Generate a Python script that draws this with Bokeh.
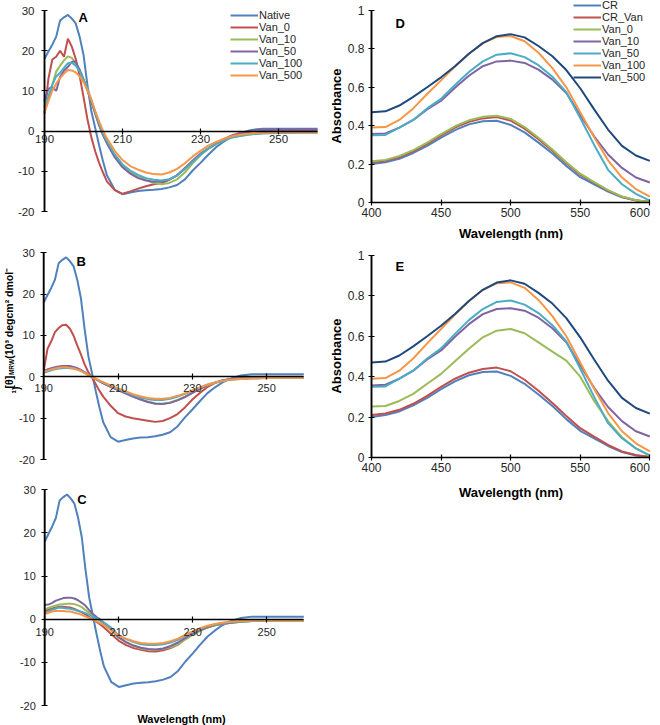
import math
from bokeh.plotting import figure
from bokeh.models import Legend, LegendItem, Label, FixedTicker
from bokeh.layouts import row, column
from bokeh.embed import file_html
from bokeh.resources import INLINE

FONT = "Liberation Sans"
TXT = "#262626"

# ---------------- CD spectra (panels A, B, C) ----------------
cd_wl = [190, 191, 192, 193, 194, 195, 196, 197, 198, 199, 200, 201, 202, 203, 204, 205, 206,
         208, 210, 212, 214, 216, 218, 220, 222, 224, 226, 228, 230, 232, 234, 236, 238, 240,
         243, 246, 250, 255, 260]
cd_xticks = [190, 210, 230, 250]
cd_xtick_labels = ["190", "210", "230", "250"]
cd_yticks = [-20, -10, 0, 10, 20, 30]
cd_ytick_labels = ["-20", "-10", "0", "10", "20", "30"]
cd_names = ["Native", "Van_0", "Van_10", "Van_50", "Van_100", "Van_500"]

native = [18.0, 19.8, 21.5, 23.5, 27.5, 28.3, 28.9, 28.0, 26.8, 23.5, 19.0, 11.5, 5.0, 0.8, -3.5, -7.5, -11.0,
          -14.6, -15.7, -15.3, -14.9, -14.7, -14.6, -14.4, -14.0, -13.4, -12.0, -9.8, -7.9, -5.9, -4.0, -2.6, -1.4, -0.5,
          0.3, 0.6, 0.6, 0.6, 0.6]

a_van0 = [4.3, 13.0, 17.8, 18.5, 20.0, 18.5, 23.0, 21.0, 18.0, 13.8, 8.5, 3.0, -1.5, -5.0, -7.9, -10.3, -12.5,
          -14.7, -15.6, -15.0, -14.3, -13.7, -13.2, -12.9, -12.1, -11.0, -9.2, -7.5, -5.8, -4.4, -3.1, -2.0, -1.1, -0.5,
          0.0, 0.2, 0.3, 0.3, 0.3]
a_van10 = [6.0, 8.5, 11.5, 14.8, 16.3, 17.6, 18.6, 18.2, 16.8, 15.3, 13.0, 10.3, 7.3, 4.4, 1.5, -1.0, -3.0,
           -6.3, -8.6, -10.2, -11.3, -12.2, -12.9, -13.2, -12.9, -12.0, -10.3, -8.0, -6.0, -4.4, -3.2, -2.3, -1.6, -1.2,
           -0.8, -0.5, -0.4, -0.3, -0.3]
a_van50 = [7.5, 10.5, 11.0, 10.0, 13.5, 15.0, 16.0, 17.2, 17.3, 15.2, 12.8, 10.2, 7.3, 4.4, 1.5, -1.0, -3.0,
           -6.5, -9.0, -10.6, -11.7, -12.3, -12.6, -12.5, -12.1, -11.0, -9.3, -7.3, -5.6, -4.3, -3.1, -2.1, -1.2, -0.7,
           -0.1, 0.3, 0.4, 0.4, 0.4]
a_van100 = [5.8, 8.5, 11.5, 13.6, 14.5, 15.7, 16.9, 17.0, 16.3, 14.9, 12.8, 10.6, 7.8, 4.8, 1.9, -0.6, -2.5,
            -5.8, -8.3, -9.8, -10.9, -11.7, -12.1, -12.3, -12.0, -11.0, -9.4, -7.6, -5.9, -4.3, -3.1, -2.2, -1.6, -1.2,
            -0.8, -0.6, -0.5, -0.4, -0.4]
a_van500 = [4.5, 7.5, 10.0, 11.8, 13.2, 14.3, 15.2, 15.1, 14.6, 13.6, 12.2, 10.2, 7.9, 5.0, 2.4, 0.1, -1.8,
            -4.9, -7.2, -8.7, -9.6, -10.3, -10.7, -10.8, -10.3, -9.4, -8.0, -6.3, -4.9, -3.6, -2.7, -1.9, -1.3, -0.9,
            -0.6, -0.4, -0.3, -0.3, -0.3]

b_van0 = [1.6, 6.8, 8.6, 10.8, 11.8, 12.5, 12.6, 11.7, 10.0, 7.6, 5.4, 3.0, 1.1, -0.2, -1.8, -3.4, -4.8,
          -7.0, -8.8, -9.6, -10.0, -10.3, -10.6, -10.9, -10.7, -10.0, -9.0, -7.4, -5.5, -3.9, -2.5, -1.5, -0.9, -0.6,
          -0.4, -0.2, -0.1, -0.1, -0.1]
b_van10 = [1.4, 1.7, 1.9, 2.1, 2.2, 2.3, 2.3, 2.3, 2.1, 1.9, 1.5, 1.0, 0.5, 0.0, -0.5, -1.0, -1.5,
           -2.4, -3.2, -4.0, -4.8, -5.4, -6.0, -6.4, -6.5, -6.2, -5.6, -4.8, -3.9, -3.0, -2.1, -1.5, -1.0, -0.7,
           -0.4, -0.3, -0.2, -0.2, -0.2]
b_van50 = [1.5, 1.8, 2.1, 2.3, 2.5, 2.6, 2.6, 2.6, 2.4, 2.1, 1.7, 1.1, 0.5, -0.1, -0.6, -1.1, -1.6,
           -2.4, -3.2, -4.0, -4.8, -5.5, -6.1, -6.5, -6.6, -6.3, -5.7, -4.9, -3.9, -2.9, -2.0, -1.4, -0.9, -0.6,
           -0.3, -0.2, -0.1, -0.1, -0.1]
b_van100 = [1.0, 1.3, 1.6, 1.8, 2.0, 2.1, 2.2, 2.1, 2.0, 1.8, 1.5, 1.0, 0.5, 0.0, -0.5, -1.0, -1.4,
            -2.2, -3.0, -3.7, -4.4, -5.0, -5.4, -5.6, -5.6, -5.3, -4.8, -4.1, -3.4, -2.6, -1.9, -1.4, -1.0, -0.7,
            -0.5, -0.4, -0.3, -0.3, -0.3]
b_van500 = [1.2, 1.5, 1.8, 2.0, 2.2, 2.3, 2.3, 2.2, 2.0, 1.7, 1.4, 0.9, 0.4, -0.1, -0.5, -0.9, -1.3,
            -2.1, -2.8, -3.5, -4.2, -4.7, -5.1, -5.3, -5.3, -5.1, -4.6, -4.0, -3.3, -2.6, -1.9, -1.4, -1.0, -0.7,
            -0.5, -0.4, -0.3, -0.2, -0.2]

c_van0 = [2.0, 2.2, 2.5, 2.7, 2.9, 2.9, 2.8, 2.7, 2.4, 2.0, 1.6, 1.1, 0.5, -0.1, -0.6, -1.2, -1.9,
          -3.5, -5.0, -6.0, -6.7, -7.1, -7.4, -7.5, -7.2, -6.7, -5.9, -4.6, -3.4, -2.6, -1.9, -1.4, -1.1, -0.9,
          -0.6, -0.4, -0.3, -0.3, -0.3]
c_van10 = [2.3, 2.6, 2.9, 3.2, 3.4, 3.5, 3.6, 3.6, 3.5, 3.2, 2.8, 2.1, 1.5, 0.9, 0.3, -0.3, -1.0,
           -2.6, -4.3, -5.4, -6.2, -6.8, -7.1, -7.1, -6.9, -6.5, -5.8, -4.7, -3.6, -2.7, -1.9, -1.4, -1.1, -0.9,
           -0.6, -0.4, -0.3, -0.3, -0.3]
c_van50 = [3.3, 3.4, 3.8, 4.3, 4.6, 4.9, 5.0, 5.0, 4.8, 4.4, 3.8, 3.1, 2.1, 1.2, 0.5, -0.1, -0.9,
           -2.4, -4.2, -5.3, -6.1, -6.6, -6.9, -7.0, -6.8, -6.2, -5.4, -4.3, -3.3, -2.5, -1.8, -1.3, -1.0, -0.8,
           -0.5, -0.3, -0.2, -0.2, -0.2]
c_van100 = [1.5, 1.8, 2.2, 2.5, 2.7, 2.6, 2.5, 2.4, 2.2, 1.9, 1.7, 1.4, 1.0, 0.6, 0.2, -0.3, -0.8,
            -2.0, -3.8, -4.6, -5.3, -5.8, -6.0, -6.0, -5.8, -5.4, -4.8, -3.8, -2.9, -2.2, -1.6, -1.2, -0.9, -0.7,
            -0.5, -0.4, -0.3, -0.3, -0.3]
c_van500 = [1.2, 1.5, 1.8, 1.9, 1.9, 1.9, 1.8, 1.8, 1.5, 1.3, 1.0, 0.6, 0.3, -0.1, -0.5, -0.9, -1.4,
            -2.6, -3.8, -4.5, -5.1, -5.5, -5.7, -5.7, -5.5, -5.1, -4.5, -3.6, -2.8, -2.1, -1.5, -1.1, -0.8, -0.6,
            -0.4, -0.3, -0.3, -0.3, -0.3]

# ---------------- Absorbance spectra (panels D, E) ----------------
abs_wl = [400, 410, 420, 430, 440, 450, 460, 470, 480, 490, 500, 510, 520, 530, 540, 550, 560, 570, 580, 590, 600]
abs_xticks = [400, 450, 500, 550, 600]
abs_xtick_labels = ["400", "450", "500", "550", "600"]
abs_yticks = [0, 0.2, 0.4, 0.6, 0.8, 1]
abs_ytick_labels = ["0", "0.2", "0.4", "0.6", "0.8", "1"]
abs_names = ["CR", "CR_Van", "Van_0", "Van_10", "Van_50", "Van_100", "Van_500"]

cr = [0.20, 0.21, 0.228, 0.258, 0.295, 0.338, 0.377, 0.407, 0.423, 0.426, 0.404, 0.365, 0.312, 0.255, 0.19,
      0.132, 0.095, 0.057, 0.027, 0.01, 0.003]
cr_van = [0.21, 0.218, 0.236, 0.266, 0.305, 0.35, 0.39, 0.42, 0.438, 0.445, 0.427, 0.385, 0.33, 0.27, 0.205,
          0.145, 0.103, 0.062, 0.03, 0.012, 0.003]
d_van0 = [0.215, 0.222, 0.242, 0.273, 0.312, 0.356, 0.397, 0.428, 0.446, 0.452, 0.435, 0.393, 0.337, 0.276, 0.21,
          0.15, 0.106, 0.064, 0.031, 0.012, 0.003]
e_van0 = [0.253, 0.255, 0.28, 0.315, 0.365, 0.414, 0.477, 0.538, 0.595, 0.628, 0.636, 0.615, 0.57, 0.524, 0.48,
          0.40, 0.28, 0.18, 0.10, 0.045, 0.008]
van10 = [0.357, 0.36, 0.39, 0.43, 0.485, 0.53, 0.598, 0.66, 0.71, 0.735, 0.739, 0.727, 0.692, 0.64, 0.57,
         0.455, 0.345, 0.25, 0.18, 0.13, 0.104]
van50 = [0.35, 0.352, 0.39, 0.43, 0.49, 0.54, 0.612, 0.68, 0.735, 0.77, 0.777, 0.757, 0.715, 0.655, 0.575,
         0.44, 0.30, 0.17, 0.095, 0.045, 0.01]
van100 = [0.39, 0.393, 0.43, 0.49, 0.565, 0.636, 0.708, 0.775, 0.83, 0.862, 0.867, 0.84, 0.78, 0.70, 0.60,
          0.47, 0.34, 0.22, 0.13, 0.07, 0.03]
van500 = [0.47, 0.475, 0.505, 0.55, 0.60, 0.652, 0.71, 0.775, 0.83, 0.866, 0.877, 0.86, 0.815, 0.762, 0.69,
          0.595, 0.485, 0.38, 0.295, 0.245, 0.217]

CD_COLORS = ["#4F81BD", "#C0504D", "#9BBB59", "#8064A2", "#4BACC6", "#F79646"]
ABS_COLORS = ["#4F81BD", "#C0504D", "#9BBB59", "#8064A2", "#4BACC6", "#F79646", "#1F497D"]

W = 330  # width of each column


def rng(v0, p0, v1, p1, size):
    """visible range so that value v0 sits at pixel p0 and v1 at pixel p1 of a frame `size` px long"""
    k = (v1 - v0) / (p1 - p0)
    start = v0 - p0 * k
    return (start, start + size * k)


def base_fig(h, xr, yr):
    p = figure(width=W, height=h, x_range=xr, y_range=yr, output_backend="svg",
               toolbar_location=None, min_border=0)
    p.min_border_left = p.min_border_right = p.min_border_top = p.min_border_bottom = 0
    p.xgrid.visible = False
    p.ygrid.visible = False
    p.outline_line_color = None
    return p


def style_axes(p, fs, ystand, xstand):
    for ax in p.axis:
        ax.axis_line_color = "black"
        ax.axis_line_width = 1.5
        ax.major_tick_line_color = "black"
        ax.major_tick_line_width = 1.2
        ax.major_tick_in = 3
        ax.major_tick_out = 3
        ax.minor_tick_line_color = None
        ax.major_label_text_font = FONT
        ax.major_label_text_font_size = fs
        ax.major_label_text_color = TXT
    p.yaxis.major_label_standoff = ystand
    p.xaxis.major_label_standoff = xstand


def y_axis_line(p, xticks, yticks):
    # vertical axis rule along the first x tick, spanning the y tick range
    p.segment(x0=[xticks[0]], y0=[yticks[0]], x1=[xticks[0]], y1=[yticks[-1]],
              line_color="black", line_width=1.5)


def add_text(p, txt, x, y, size, bold=False, align="left", baseline="alphabetic", angle=0.0):
    p.add_layout(Label(x=x, y=y, x_units="screen", y_units="screen", text=txt, angle=angle,
                       text_font=FONT, text_font_size=size,
                       text_font_style="bold" if bold else "normal",
                       text_color="black", text_align=align, text_baseline=baseline))


def make_cd(h, xpix, ypix, fs, ystand, xstand, series):
    p = base_fig(h, rng(190, xpix[0], 260, xpix[1], W), rng(-20, ypix[0], 30, ypix[1], h))
    rs = [p.line(cd_wl, ys, line_color=c, line_width=2) for ys, c in zip(series, CD_COLORS)]
    y_axis_line(p, cd_xticks, cd_yticks)
    p.xaxis.fixed_location = 0
    p.xaxis.bounds = (190, 260)
    p.xaxis.ticker = FixedTicker(ticks=cd_xticks)
    p.xaxis.major_label_overrides = dict(zip(cd_xticks, cd_xtick_labels))
    p.yaxis.fixed_location = 190
    p.yaxis.bounds = (-20, 30)
    p.yaxis.ticker = FixedTicker(ticks=cd_yticks)
    p.yaxis.major_label_overrides = dict(zip(cd_yticks, cd_ytick_labels))
    style_axes(p, fs, ystand, xstand)
    return p, rs


def make_abs(h, ypix, series, xlab_y, ylab_y):
    p = base_fig(h, rng(400, 41, 600, 319.3, W), rng(0, ypix[0], 1, ypix[1], h))
    rs = [p.line(abs_wl, ys, line_color=c, line_width=2) for ys, c in zip(series, ABS_COLORS)]
    y_axis_line(p, abs_xticks, abs_yticks)
    p.xaxis.fixed_location = 0
    p.xaxis.bounds = (400, 600)
    p.xaxis.ticker = FixedTicker(ticks=abs_xticks)
    ov = dict(zip(abs_xticks, abs_xtick_labels))
    ov[abs_xticks[-1]] = ""
    p.xaxis.major_label_overrides = ov
    p.yaxis.fixed_location = 400
    p.yaxis.bounds = (0, 1)
    p.yaxis.ticker = FixedTicker(ticks=abs_yticks)
    p.yaxis.major_label_overrides = dict(zip(abs_yticks, abs_ytick_labels))
    style_axes(p, "12px", 4, 2)
    # last x tick label right-aligned at the axis end, as in the original
    p.add_layout(Label(x=abs_xticks[-1], y=ypix[0] - 5, x_units="data", y_units="screen",
                       text=abs_xtick_labels[-1], text_align="right", text_baseline="top",
                       text_font=FONT, text_font_size="12px", text_color=TXT))
    add_text(p, "Wavelength (nm)", 180.5, xlab_y, "13px", bold=True, align="center")
    add_text(p, "Absorbance", 6, ylab_y, "13px", bold=True, align="center",
             baseline="middle", angle=math.pi / 2)
    return p, rs


def make_legend(names, rs, x, y):
    return Legend(items=[LegendItem(label=n, renderers=[r]) for n, r in zip(names, rs)],
                  location=(x, y), orientation="vertical",
                  label_text_font=FONT, label_text_font_size="11px", label_text_color=TXT,
                  glyph_width=28, glyph_height=12, label_height=12, label_standoff=1,
                  spacing=0, padding=0, margin=0,
                  border_line_color=None, background_fill_alpha=0)


# Panel A  (page y 0..232)
HA = 232
pa, ra = make_cd(HA, (44, 317), (HA - 211, HA - 10), "11.5px", 7, 1,
                 [native, a_van0, a_van10, a_van50, a_van100, a_van500])
pa.add_layout(make_legend(cd_names, ra, 230, 151))
add_text(pa, "A", 78, HA - 17.3, "13px", bold=True)

# Panel B  (page y 232..470)
HB = 238
pb, rb = make_cd(HB, (43.3, 303.3), (HB - 227, HB - 20.3), "11px", 6, 4,
                 [native, b_van0, b_van10, b_van50, b_van100, b_van500])
add_text(pb, "B", 76, HB - 28.5, "13px", bold=True)
rot = math.pi / 2
add_text(pb, "[θ]", 8, 82, "10.5px", bold=True, baseline="middle", angle=rot)
add_text(pb, "MRW", 10.5, 95.4, "6.5px", bold=True, baseline="middle", angle=rot)
add_text(pb, " (10³ degcm² dmol⁻", 8, 111.7, "10.5px", bold=True, baseline="middle", angle=rot)
add_text(pb, "¹)", 15, 77, "10.5px", bold=True, baseline="middle", angle=rot)

# Panel C  (page y 470..725)
HC = 255
pc, rc = make_cd(HC, (44.3, 303.3), (HC - 235, HC - 19.3), "11px", 6, 6,
                 [native, c_van0, c_van10, c_van50, c_van100, c_van500])
add_text(pc, "C", 76.7, HC - 29.3, "13px", bold=True)
add_text(pc, "Wavelength (nm)", 181, 7, "11px", bold=True, align="center")

# Panel D  (page y 0..240, x 330..660)
HD = 240
pd_, rd = make_abs(HD, (HD - 202, HD - 10), [cr, cr_van, d_van0, van10, van50, van100, van500], 7, 134.5)
pd_.add_layout(make_legend(abs_names, rd, 243, 157))
add_text(pd_, "D", 65, HD - 22.7, "13px", bold=True)

# Panel E  (page y 240..500)
HE = 260
pe, re_ = make_abs(HE, (HE - 217, HE - 15), [cr, cr_van, e_van0, van10, van50, van100, van500], 8, 144.5)
add_text(pe, "E", 65, HE - 26, "13px", bold=True)

layout = row(column(pa, pb, pc), column(pd_, pe))
open("out.html", "w").write(file_html(layout, INLINE))
